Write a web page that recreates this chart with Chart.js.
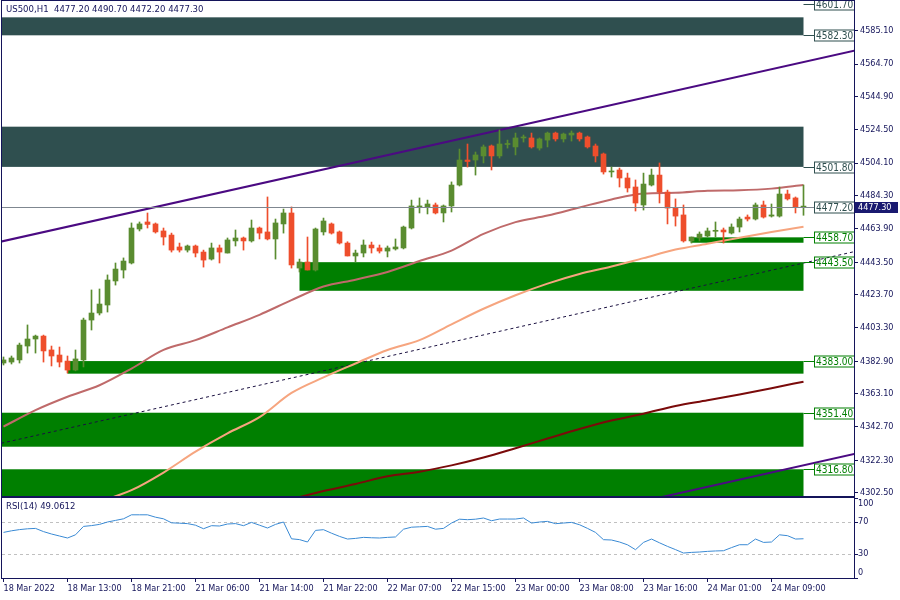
<!DOCTYPE html>
<html>
<head>
<meta charset="utf-8">
<title>US500 H1</title>
<script src="https://cdn.jsdelivr.net/npm/chart.js@4.4.1/dist/chart.umd.min.js"></script>
<style>
  html, body { margin: 0; padding: 0; background: #fff; }
  #wrap { position: relative; width: 900px; height: 600px; overflow: hidden; }
  #mainChart { position: absolute; left: 0; top: 0; }
  #rsiChart { position: absolute; left: 0; top: 497px; }
</style>
</head>
<body>
<div id="wrap">
  <canvas id="mainChart" width="900" height="497"></canvas>
  <canvas id="rsiChart" width="900" height="103"></canvas>
</div>
<script>
// ---- data ----
const headerText = 'US500,H1  4477.20 4490.70 4472.20 4477.30';
const rsiText = 'RSI(14) 49.0612';

const open = [4381.8,4382.4,4383.7,4392.2,4396.5,4398.3,4389.8,4386.7,4383.0,4377.5,
  4383.7,4408.1,4412.4,4417.3,4432.0,4438.7,4443.0,4463.8,4468.1,4466.9,
  4462.6,4460.1,4452.8,4450.9,4453.4,4449.7,4445.4,4452.2,4449.1,4456.5,
  4458.3,4456.5,4464.4,4462.0,4457.7,4466.9,4473.6,4439.9,4443.6,4438.7,
  4462.0,4466.9,4462.0,4455.2,4447.3,4449.1,4454.0,4452.2,4450.3,4451.6,
  4452.2,4464.4,4477.3,4477.3,4478.5,4473.6,4477.9,4490.7,4506.0,4506.0,
  4508.5,4514.6,4508.5,4515.5,4514.0,4519.5,4519.5,4513.3,4518.2,4522.5,
  4518.9,4521.3,4522.5,4520.1,4514.6,4509.7,4498.7,4499.9,4495.0,4489.5,
  4478.5,4490.7,4496.8,4486.4,4476.6,4472.4,4456.5,4458.3,4459.5,4462.4,
  4463.2,4461.3,4465.0,4471.1,4469.9,4478.5,4471.7,4471.7,4485.2,4482.8,
  4477.2];
const high = [4385.5,4386.1,4394.0,4405.1,4398.9,4398.9,4392.2,4391.6,4386.1,4389.8,
  4409.3,4426.5,4427.1,4435.7,4443.0,4446.1,4467.5,4468.1,4473.6,4467.5,
  4464.4,4461.3,4455.2,4454.0,4454.0,4450.9,4455.2,4454.0,4458.3,4463.2,
  4458.9,4469.3,4465.0,4483.4,4469.9,4476.0,4477.3,4445.4,4458.9,4464.4,
  4470.5,4467.5,4462.6,4456.0,4450.9,4457.1,4455.8,4454.0,4453.4,4457.7,
  4465.6,4481.5,4482.8,4481.5,4479.7,4478.5,4492.6,4512.7,4515.8,4510.9,
  4515.2,4515.2,4524.4,4518.2,4522.5,4521.3,4522.5,4519.5,4523.1,4523.1,
  4522.5,4523.8,4523.1,4520.7,4515.8,4510.3,4501.7,4501.1,4498.0,4493.8,
  4498.0,4500.5,4504.2,4487.6,4482.2,4478.5,4458.9,4462.0,4464.4,4468.1,
  4464.4,4466.9,4471.1,4472.4,4479.7,4480.9,4479.1,4489.5,4487.6,4483.4,
  4490.7];
const low = [4380.6,4381.2,4381.8,4387.9,4387.9,4382.4,4380.0,4379.4,4375.7,4377.0,
  4379.4,4402.0,4411.2,4413.0,4429.5,4433.8,4442.4,4462.6,4464.4,4461.3,
  4454.0,4449.7,4449.7,4449.7,4446.7,4440.5,4444.8,4443.0,4449.1,4453.4,
  4450.9,4455.8,4457.7,4457.1,4445.4,4461.3,4439.9,4437.5,4438.7,4438.1,
  4460.1,4460.7,4454.6,4447.3,4443.6,4446.7,4449.1,4449.1,4446.7,4450.9,
  4451.6,4463.8,4473.6,4473.0,4473.0,4468.1,4474.2,4490.1,4501.7,4496.8,
  4504.2,4499.9,4507.2,4513.3,4509.1,4517.0,4513.3,4512.1,4514.0,4517.6,
  4517.0,4517.6,4517.6,4513.3,4504.8,4497.4,4495.6,4489.5,4486.4,4474.8,
  4475.4,4490.1,4479.7,4466.9,4465.6,4455.8,4455.2,4456.5,4458.9,4458.9,
  4455.2,4460.7,4462.0,4468.7,4469.3,4470.5,4471.1,4471.1,4481.5,4473.6,
  4472.2];
const close = [4383.7,4384.9,4392.8,4396.5,4398.3,4389.2,4386.1,4382.4,4377.5,4384.3,
  4408.1,4412.4,4417.9,4432.6,4439.3,4444.2,4464.4,4466.9,4466.6,4462.0,
  4458.9,4450.9,4450.9,4453.4,4449.1,4444.8,4452.2,4449.7,4457.1,4458.3,
  4456.5,4464.4,4461.3,4457.7,4467.5,4473.6,4441.8,4443.6,4438.7,4463.8,
  4468.7,4461.3,4455.2,4447.3,4449.1,4454.0,4452.2,4450.3,4452.2,4452.8,
  4465.0,4477.9,4477.9,4479.1,4473.6,4477.9,4490.7,4506.0,4505.1,4509.1,
  4514.0,4508.5,4515.8,4516.1,4519.5,4520.1,4514.0,4518.9,4522.5,4518.9,
  4521.9,4522.5,4518.9,4514.0,4508.5,4498.7,4499.3,4495.0,4488.9,4479.7,
  4491.3,4496.8,4486.4,4476.6,4471.7,4456.5,4458.9,4460.7,4462.6,4462.6,
  4462.0,4465.0,4469.9,4469.9,4478.5,4471.1,4472.4,4485.2,4482.2,4477.2,
  4477.3];

const rsi = [57,59,60.5,61.5,62,58,55,52.5,50,54,
  64.5,65.5,67,70,72,74,79,79,79,76,
  74,69,68.5,68,66,61.6,65.4,65,67.5,68,
  65.4,69.5,66,62.5,67,70,49,48,45,59.5,
  60.4,56,52,48.7,49.5,50.8,50.3,50,50.8,51.3,
  61,63.5,64,64.5,61,62,68.7,73.5,72.9,73.5,
  75,71.6,73.7,73.7,73.7,75,68.7,70,70.8,67.9,
  68.7,69.5,66.6,62,57,47.9,47.5,45,41.5,35.4,
  44.5,48.7,44,39.5,35.5,31.2,32,32.5,33.3,33.8,
  34.1,38,41.6,41.6,48.7,44.5,45,54,52.9,48.7,
  49.06];
const rsiLevels = [70, 30];
const rsiTickValues = [100, 70, 30, 0];

// moving averages, sampled every 4 bars
const maFastBars = [0,4,8,12,16,20,24,28,32,36,40,44,48,52,56,60,64,68,72,76,80,84,88,92,96,100];
const maFastValues = [4342.9,4353.0,4361.2,4368.2,4378.4,4389.8,4395.8,4403.6,4411.3,4420.3,
  4428.6,4432.8,4437.5,4444.2,4450.6,4460.8,4468.0,4472.0,4477.0,4481.9,
  4485.5,4486.0,4487.2,4487.5,4488.5,4490.7];
const maMidBars = [12,16,20,24,28,32,36,40,44,48,52,56,60,64,68,72,76,80,84,88,92,96,100];
const maMidValues = [4297.0,4304.0,4314.8,4327.6,4338.8,4348.7,4363.5,4373.0,4381.5,4389.8,
  4395.8,4405.5,4415.0,4423.3,4430.4,4436.3,4440.8,4446.0,4451.2,4454.8,
  4458.5,4462.0,4465.2];
const maSlowBars = [36,40,44,48,52,56,60,64,68,72,76,80,84,88,92,96,100];
const maSlowValues = [4298.5,4303.5,4307.8,4312.5,4315.3,4319.2,4324.0,4329.7,4335.6,4341.4,
  4346.6,4350.8,4355.5,4359.0,4362.6,4366.4,4370.4];

// trend lines: [bar, price] end points
const channelTop = [[-0.4, 4456.0], [106.4, 4572.9]];
const channelBottom = [[80, 4297.3], [106.4, 4326.2]];
const dottedTrend = [[-0.3, 4332.7], [106.4, 4450.0]];

// rectangles
const zoneEndBar = 100;
const slateZoneTop = [4593.3, 4526.4];
const slateZoneBottom = [4582.3, 4501.8];
const slateZoneStart = [-2, -2];
const greenZoneTop = [4458.7, 4443.5, 4383.0, 4351.4, 4316.8];
const greenZoneBottom = [4455.4, 4426.0, 4375.3, 4330.6, 4290.0];
const greenZoneStart = [85.9, 37, 8, -2, -2];

const slateLabelPrices = [4601.7, 4582.3, 4501.8, 4477.2];
const greenLabelPrices = [4458.7, 4443.5, 4383.0, 4351.4, 4316.8];
const hLinePrice = 4477.2;
const lastPrice = 4477.3;

const priceTicks = [4585.10,4564.70,4544.90,4524.50,4504.10,4484.30,4463.90,
  4443.50,4423.70,4403.30,4382.90,4363.10,4342.70,4322.30,4302.50];

const xTickBars = [0,8,16,24,32,40,48,56,64,72,80,88,96];
const xTickLabels = ['18 Mar 2022','18 Mar 13:00','18 Mar 21:00','21 Mar 06:00','21 Mar 14:00',
  '21 Mar 22:00','22 Mar 07:00','22 Mar 15:00','23 Mar 00:00','23 Mar 08:00',
  '23 Mar 16:00','24 Mar 01:00','24 Mar 09:00'];

// ---- styles ----
const AXIS = '#14145a';
const SLATE = '#2f4f4f';
const GREEN = '#007f00';
const BULL = '#5a8c30';
const BEAR = '#ee4e2c';
const FAMILY = '"DejaVu Sans Condensed", "DejaVu Sans", sans-serif';
const X_MIN = -0.1875, X_MAX = 106.3125;
Chart.defaults.font.family = FAMILY;

// keep the panes at full size: no extra room for end tick labels
const fixAxis = (w, h) => s => {
  if (w) s.width = w;
  if (h) s.height = h;
  s.paddingTop = 0; s.paddingBottom = 0; s.paddingLeft = 0; s.paddingRight = 0;
};

const frame = {
  id: 'frame',
  afterDraw(chart) {
    const { ctx, chartArea: a } = chart;
    ctx.save();
    ctx.strokeStyle = AXIS;
    ctx.lineWidth = 1;
    ctx.strokeRect(a.left - 0.5, a.top - 0.5, a.right - a.left + 1, a.bottom - a.top + 1);
    ctx.restore();
  }
};

const zones = {
  id: 'zones',
  beforeDatasetsDraw(chart) {
    const { ctx, chartArea: a, scales: { x, y } } = chart;
    ctx.save();
    ctx.beginPath();
    ctx.rect(a.left, a.top, a.right - a.left, a.bottom - a.top);
    ctx.clip();
    const band = (top, bottom, start, color) => {
      const x1 = Math.max(a.left, x.getPixelForValue(start));
      const x2 = x.getPixelForValue(zoneEndBar);
      const y1 = y.getPixelForValue(top), y2 = y.getPixelForValue(bottom);
      ctx.fillStyle = color;
      ctx.fillRect(x1, y1, x2 - x1, y2 - y1);
    };
    slateZoneTop.forEach((t, i) => band(t, slateZoneBottom[i], slateZoneStart[i], SLATE));
    greenZoneTop.forEach((t, i) => band(t, greenZoneBottom[i], greenZoneStart[i], GREEN));
    ctx.restore();
  }
};

const priceLabels = {
  id: 'priceLabels',
  afterDatasetsDraw(chart) {
    const { ctx, chartArea: a, scales: { x, y } } = chart;
    const boxLeft = a.right - 40;
    const zoneRight = x.getPixelForValue(zoneEndBar);
    ctx.save();
    ctx.beginPath();
    ctx.rect(a.left, a.top, a.right - a.left, a.bottom - a.top);
    ctx.clip();
    ctx.font = '10px ' + FAMILY;
    ctx.textBaseline = 'middle';
    ctx.lineWidth = 1;
    const draw = (p, color) => {
      const yy = Math.round(y.getPixelForValue(p)) + 0.5;
      ctx.beginPath();
      if (p === hLinePrice) {
        ctx.strokeStyle = '#7f8790';
        ctx.moveTo(a.left, yy);
      } else {
        ctx.strokeStyle = color;
        ctx.moveTo(zoneRight, yy);
      }
      ctx.lineTo(boxLeft, yy);
      ctx.stroke();
      ctx.strokeStyle = color;
      ctx.strokeRect(Math.round(boxLeft) + 0.5, yy - 5.5, 40, 11);
      ctx.fillStyle = color;
      ctx.fillText(p.toFixed(2), boxLeft + 2, yy + 0.5);
    };
    slateLabelPrices.forEach(p => draw(p, SLATE));
    greenLabelPrices.forEach(p => draw(p, GREEN));
    ctx.restore();

    // header
    ctx.save();
    ctx.font = '9.5px ' + FAMILY;
    ctx.fillStyle = AXIS;
    ctx.textBaseline = 'middle';
    ctx.fillText(headerText, a.left + 4, a.top + 9);
    // current price box on the axis
    const cy = Math.round(y.getPixelForValue(lastPrice));
    ctx.fillStyle = '#191970';
    ctx.fillRect(a.right + 1, cy - 5, 43, 11);
    ctx.fillStyle = '#ffffff';
    ctx.font = '9px ' + FAMILY;
    ctx.fillText(lastPrice.toFixed(2), a.right + 4, cy + 1);
    ctx.restore();
  }
};

const pts = (xs, ys) => xs.map((b, i) => ({ x: b, y: ys[i] }));
const seg = arr => arr.map(p => ({ x: p[0], y: p[1] }));
const candleColor = open.map((o, i) => (close[i] >= o ? BULL : BEAR));

new Chart(document.getElementById('mainChart'), {
  type: 'bar',
  data: {
    datasets: [
      { type: 'bar', data: open.map((o, i) => ({ x: i, y: [o, close[i]] })),
        backgroundColor: candleColor, barThickness: 5, minBarLength: 1,
        grouped: false, borderWidth: 0, order: 0 },
      { type: 'bar', data: open.map((o, i) => ({ x: i, y: [low[i], high[i]] })),
        backgroundColor: candleColor, barThickness: 1, minBarLength: 1,
        grouped: false, borderWidth: 0, order: 1 },
      { type: 'line', data: pts(maFastBars, maFastValues), borderColor: '#bf6a6a',
        borderWidth: 2, pointRadius: 0, cubicInterpolationMode: 'monotone', order: 2 },
      { type: 'line', data: pts(maMidBars, maMidValues), borderColor: '#f6a57f',
        borderWidth: 2, pointRadius: 0, cubicInterpolationMode: 'monotone', order: 2 },
      { type: 'line', data: pts(maSlowBars, maSlowValues), borderColor: '#7a0a0a',
        borderWidth: 2, pointRadius: 0, cubicInterpolationMode: 'monotone', order: 2 },
      { type: 'line', data: seg(channelTop), borderColor: '#4b0a82', borderWidth: 2,
        pointRadius: 0, order: 3 },
      { type: 'line', data: seg(channelBottom), borderColor: '#4b0a82', borderWidth: 2,
        pointRadius: 0, order: 3 },
      { type: 'line', data: seg(dottedTrend), borderColor: '#1a1040', borderWidth: 1,
        borderDash: [3, 3], pointRadius: 0, order: 3 }
    ]
  },
  options: {
    responsive: false,
    animation: false,
    events: [],
    layout: { padding: { left: 2, top: 1, right: 0, bottom: 1 } },
    plugins: { legend: { display: false }, tooltip: { enabled: false } },
    scales: {
      x: { type: 'linear', min: X_MIN, max: X_MAX, offset: false, display: false,
           grid: { offset: false } },
      y: {
        type: 'linear', position: 'right', min: 4300.45, max: 4603.29, beginAtZero: false,
        afterBuildTicks: s => { s.ticks = priceTicks.map(v => ({ value: v })); },
        afterFit: fixAxis(46, 0),
        ticks: { color: AXIS, font: { size: 9 }, padding: 2, callback: v => v.toFixed(2) },
        grid: { drawOnChartArea: false, drawTicks: true, tickLength: 4, color: AXIS },
        border: { color: AXIS }
      }
    }
  },
  plugins: [zones, priceLabels, frame]
});

const rsiDecor = {
  id: 'rsiDecor',
  beforeDatasetsDraw(chart) {
    const { ctx, chartArea: a, scales: { y } } = chart;
    ctx.save();
    ctx.strokeStyle = '#c0c0c0';
    ctx.lineWidth = 1;
    ctx.setLineDash([3, 3]);
    rsiLevels.forEach(l => {
      const yy = Math.round(y.getPixelForValue(l)) + 0.5;
      ctx.beginPath();
      ctx.moveTo(a.left, yy);
      ctx.lineTo(a.right, yy);
      ctx.stroke();
    });
    ctx.restore();
  },
  afterDraw(chart) {
    const { ctx, chartArea: a } = chart;
    ctx.save();
    ctx.font = '9.5px ' + FAMILY;
    ctx.fillStyle = AXIS;
    ctx.textBaseline = 'middle';
    ctx.fillText(rsiText, a.left + 4, a.top + 9);
    ctx.restore();
  }
};

new Chart(document.getElementById('rsiChart'), {
  type: 'line',
  data: {
    datasets: [{ data: rsi.map((v, i) => ({ x: i, y: v })), borderColor: '#3a8ad4',
      borderWidth: 1, pointRadius: 0, tension: 0 }]
  },
  options: {
    responsive: false,
    animation: false,
    events: [],
    layout: { padding: { left: 2, top: 1, right: 0, bottom: 0 } },
    plugins: { legend: { display: false }, tooltip: { enabled: false } },
    scales: {
      x: {
        type: 'linear', min: X_MIN, max: X_MAX, offset: false,
        afterBuildTicks: s => { s.ticks = xTickBars.map(v => ({ value: v })); },
        afterFit: fixAxis(0, 22),
        ticks: { color: AXIS, font: { size: 9 }, align: 'start', padding: 1,
                 maxRotation: 0, autoSkip: false,
                 callback: v => xTickLabels[xTickBars.indexOf(v)] },
        grid: { drawOnChartArea: false, drawTicks: true, tickLength: 4, color: AXIS },
        border: { color: AXIS }
      },
      y: {
        type: 'linear', position: 'right', min: 0, max: 100,
        afterBuildTicks: s => { s.ticks = rsiTickValues.map(v => ({ value: v })); },
        afterFit: fixAxis(46, 0),
        ticks: { color: AXIS, font: { size: 9 }, padding: 0,
                 callback: v => (v === 100 ? ['', '100'] : v === 0 ? ['0', ''] : String(v)) },
        grid: { drawOnChartArea: false, drawTicks: true, tickLength: 4, color: AXIS },
        border: { color: AXIS }
      }
    }
  },
  plugins: [rsiDecor, frame]
});
</script>
</body>
</html>
